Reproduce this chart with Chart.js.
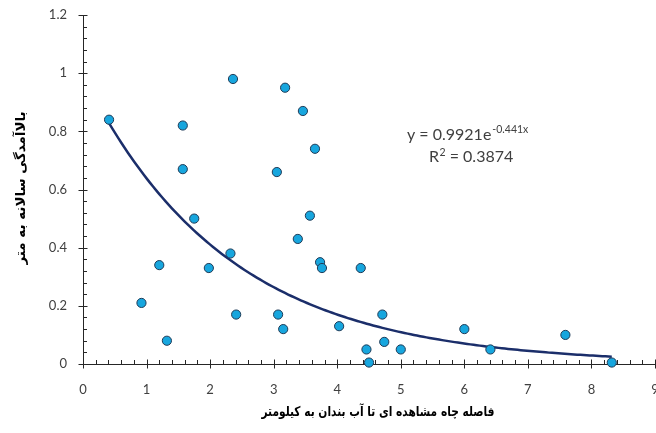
<!DOCTYPE html>
<html><head><meta charset="utf-8">
<script src="https://cdn.jsdelivr.net/npm/chart.js@4.4.1/dist/chart.umd.min.js"></script>
<style>html,body{margin:0;padding:0;background:#fff;overflow:hidden}#wrap{width:656px;height:433px;position:relative}</style>
</head><body><div id="wrap"><canvas id="c" width="656" height="433"></canvas></div>
<script>
// ---- data ----
const distanceKm = [0.41, 0.92, 1.20, 1.32, 1.57, 1.57, 1.75, 1.98, 2.36, 2.32, 2.41, 3.18, 3.46, 3.65, 3.05, 3.57, 3.38, 3.73, 3.76, 3.07, 3.15, 4.37, 4.03, 4.71, 4.74, 4.46, 4.50, 5.00, 6.00, 6.41, 7.59, 8.32];
const riseM      = [0.84, 0.21, 0.34, 0.08, 0.82, 0.67, 0.50, 0.33, 0.98, 0.38, 0.17, 0.95, 0.87, 0.74, 0.66, 0.51, 0.43, 0.35, 0.33, 0.17, 0.12, 0.33, 0.13, 0.17, 0.076, 0.05, 0.005, 0.05, 0.12, 0.05, 0.10, 0.005];
const xTickLabels = ['0','1','2','3','4','5','6','7','8','9'];
const yTickLabels = ['0','0.2','0.4','0.6','0.8','1','1.2'];
const trendA = 0.9921, trendB = -0.441;          // displayed exponential fit
const eqMain = 'y = 0.9921e', eqExp = '-0.441x';
const r2Main = 'R', r2Sup = '2', r2Rest = ' = 0.3874';
const xTitle = 'فاصله چاه مشاهده ای تا آب بندان به کیلومتر';
const yTitle = 'بالاآمدگی سالانه به متر';

// ---- build ----
const points = distanceKm.map((x, i) => ({x, y: riseM[i]}));
const xMin = Math.min(...distanceKm), xMax = Math.max(...distanceKm);
const trend = [];
for (let k = 0; k <= 160; k++) {
  const x = xMin + (xMax - xMin) * k / 160;
  trend.push({x, y: trendA * Math.exp(trendB * x)});
}
const isMajor = (v, step) => Math.abs(v / step - Math.round(v / step)) < 1e-6;
const AXIS = '#262626', TXT = '#404040';

const tickPlugin = {
  id: 'ticks',
  beforeDatasetsDraw(chart) {
    const ctx = chart.ctx, xs = chart.scales.x, ys = chart.scales.y, ca = chart.chartArea;
    ctx.save(); ctx.strokeStyle = AXIS; ctx.lineWidth = 1;
    xs.ticks.forEach(t => {
      const px = Math.round(xs.getPixelForValue(t.value)) + 0.5;
      const maj = isMajor(t.value, 1);
      ctx.beginPath(); ctx.moveTo(px, ca.bottom - (maj ? 4.5 : 4)); ctx.lineTo(px, ca.bottom + (maj ? 4.5 : 0)); ctx.stroke();
    });
    ys.ticks.forEach(t => {
      const py = Math.round(ys.getPixelForValue(t.value)) + 0.5;
      const maj = isMajor(t.value, 0.2);
      ctx.beginPath(); ctx.moveTo(ca.left - (maj ? 4.5 : 0), py); ctx.lineTo(ca.left + (maj ? 4.5 : 4), py); ctx.stroke();
    });
    ctx.restore();
  }
};
const textPlugin = {
  id: 'texts',
  afterDraw(chart) {
    const ctx = chart.ctx;
    ctx.save();
    // equation
    ctx.fillStyle = TXT; ctx.textAlign = 'left'; ctx.textBaseline = 'alphabetic';
    ctx.font = '16px Lato';
    ctx.fillText(eqMain, 407, 140);
    let w = ctx.measureText(eqMain).width;
    ctx.font = '10.5px Lato';
    ctx.fillText(eqExp, 407 + w + 1, 133);
    ctx.font = '16px Lato';
    ctx.fillText(r2Main, 429, 162);
    w = ctx.measureText(r2Main).width;
    ctx.font = '10.5px Lato';
    ctx.fillText(r2Sup, 429 + w + 0.5, 156);
    const w2 = ctx.measureText(r2Sup).width;
    ctx.font = '16px Lato';
    ctx.fillText(r2Rest, 429 + w + w2 + 0.5, 162);
    ctx.restore();
    // axis titles (horizontally condensed to the reference width)
    const drawTitle = (txt, cx, cy, rot, target, size) => {
      ctx.save();
      ctx.fillStyle = '#000'; ctx.textAlign = 'center'; ctx.textBaseline = 'middle'; ctx.direction = 'rtl';
      ctx.font = 'bold ' + size + 'px "DejaVu Sans"';
      const m = ctx.measureText(txt).width;
      ctx.translate(cx, cy); ctx.rotate(rot); ctx.scale(Math.min(1, target / m), 1);
      ctx.fillText(txt, 0, 0);
      ctx.restore();
    };
    drawTitle(xTitle, 378, 412, 0, 233, 13.5);
    drawTitle(yTitle, 21, 188, -Math.PI / 2, 153, 13.5);
  }
};

new Chart(document.getElementById('c'), {
  type: 'scatter',
  data: {
    datasets: [
      {data: points, backgroundColor: '#17A6DE', borderColor: '#1F3B57', borderWidth: 1, pointRadius: 4.6, clip: false},
      {data: trend, showLine: true, pointRadius: 0, borderColor: '#1B2E6A', borderWidth: 2.5, fill: false, tension: 0}
    ]
  },
  options: {
    responsive: false, animation: false, devicePixelRatio: 1,
    layout: {autoPadding: false, padding: {top: 15, right: 1, left: 0, bottom: 0}},
    plugins: {legend: {display: false}, tooltip: {enabled: false}},
    scales: {
      x: {
        type: 'linear', min: 0, max: 9,
        grid: {display: false, drawTicks: false},
        border: {display: true, color: AXIS, width: 1},
        ticks: {stepSize: 0.2, autoSkip: false, maxRotation: 0, padding: 18, color: TXT, font: {family: 'Lato', size: 13},
          callback: v => isMajor(v, 1) ? xTickLabels[Math.round(v)] : ''},
        afterFit: s => { s.height = 69; s.paddingLeft = 0; s.paddingRight = 0; }
      },
      y: {
        type: 'linear', min: 0, max: 1.2,
        grid: {display: false, drawTicks: false},
        border: {display: true, color: AXIS, width: 1},
        ticks: {stepSize: 0.04, autoSkip: false, padding: 16, color: TXT, font: {family: 'Lato', size: 13},
          callback: v => isMajor(v, 0.2) ? yTickLabels[Math.round(v / 0.2)] : ''},
        afterFit: s => { s.width = 83; s.paddingTop = 0; s.paddingBottom = 0; }
      }
    }
  },
  plugins: [tickPlugin, textPlugin]
});
</script></body></html>
